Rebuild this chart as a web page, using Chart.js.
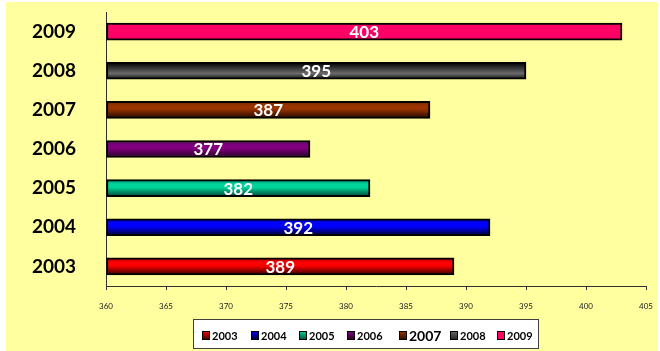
<!DOCTYPE html>
<html>
<head>
<meta charset="utf-8">
<script src="https://cdn.jsdelivr.net/npm/chart.js@4"></script>
<style>
  html, body { margin: 0; padding: 0; background: #ffffff; }
  #grafica { display: block; }
</style>
</head>
<body>
<canvas id="grafica" width="660" height="351"></canvas>
<script>
const anios = ["2003", "2004", "2005", "2006", "2007", "2008", "2009"];
const valores = [389, 392, 382, 377, 387, 395, 403];
const ticksX = [360, 365, 370, 375, 380, 385, 390, 395, 400, 405];

// degradado vertical de cada barra: arriba / medio / abajo
const coloresArriba = ["#c00000", "#0000c0", "#00a078", "#600060", "#802a00", "#0a0a0a", "#ff0066"];
const coloresMedio = ["#ff0000", "#0000ff", "#00d49a", "#80007f", "#993300", "#6a6a6a", "#ff0066"];
const coloresAbajo = ["#500000", "#000048", "#005a44", "#340032", "#341000", "#2a2a2a", "#ff0066"];

const FUENTE = "Lato, 'Open Sans', sans-serif";

function degradado(ctx) {
    const chart = ctx.chart;
    const i = ctx.dataIndex;
    const escala = chart.scales.y;
    if (!escala || !chart.chartArea) return coloresMedio[i];
    const yc = escala.getPixelForValue(i);
    const g = chart.ctx.createLinearGradient(0, yc - 7, 0, yc + 7);
    g.addColorStop(0, coloresArriba[i]);
    if (i === 5) {
        g.addColorStop(0.7, coloresMedio[i]);
    } else {
        g.addColorStop(0.2, coloresMedio[i]);
        g.addColorStop(0.45, coloresMedio[i]);
    }
    g.addColorStop(1, coloresAbajo[i]);
    return g;
}

// fondo amarillo del gráfico
const fondo = {
    id: "fondo",
    beforeDraw(chart) {
        const c = chart.ctx;
        c.save();
        c.fillStyle = "#ffffa0";
        c.fillRect(6, 2, 652, 349);
        c.restore();
    }
};

// valor de cada barra escrito en blanco en el centro
const etiquetasValor = {
    id: "etiquetasValor",
    afterDatasetsDraw(chart) {
        const c = chart.ctx;
        const meta = chart.getDatasetMeta(0);
        c.save();
        c.font = "bold 17px " + FUENTE;
        c.fillStyle = "#ffffff";
        c.textAlign = "center";
        c.textBaseline = "middle";
        meta.data.forEach((barra, i) => {
            const p = barra.getProps(["x", "y", "base"], true);
            c.fillText(String(valores[i]), (p.x + p.base) / 2, p.y + 1);
        });
        c.restore();
    }
};

// leyenda dentro de un recuadro blanco
const leyenda = {
    id: "leyenda",
    afterDraw(chart) {
        const c = chart.ctx;
        c.save();
        c.fillStyle = "#ffffff";
        c.fillRect(193.5, 319.5, 345, 29);
        c.strokeStyle = "#404040";
        c.lineWidth = 1;
        c.strokeRect(193.5, 319.5, 345, 29);
        const posiciones = [202, 251, 299, 347, 399, 450, 497];
        c.textBaseline = "middle";
        anios.forEach((anio, i) => {
            const x = posiciones[i];
            const y = 335;
            const g = c.createLinearGradient(0, y - 4, 0, y + 4);
            g.addColorStop(0, coloresMedio[i]);
            g.addColorStop(1, coloresAbajo[i]);
            c.fillStyle = g;
            c.fillRect(x, y - 4, 7, 8);
            c.strokeStyle = "#000000";
            c.strokeRect(x + 0.5, y - 3.5, 7, 8);
            c.fillStyle = "#000000";
            c.font = (anio === "2007" ? "bold 14px " : "bold 11px ") + FUENTE;
            c.fillText(anio, x + 10, y + 1);
        });
        c.restore();
    }
};

new Chart(document.querySelector("#grafica"), {
    type: "bar",
    data: {
        labels: anios,
        datasets: [{
            data: valores,
            base: 360,
            backgroundColor: degradado,
            borderColor: "#000000",
            borderWidth: 2,
            borderSkipped: false,
            barThickness: 17
        }]
    },
    plugins: [fondo, etiquetasValor, leyenda],
    options: {
        indexAxis: "y",
        responsive: false,
        animation: false,
        layout: { padding: { left: 0, right: 14, top: 12, bottom: 35 } },
        plugins: {
            legend: { display: false },
            tooltip: { enabled: false }
        },
        scales: {
            x: {
                min: 360,
                max: 405,
                afterBuildTicks(scale) {
                    scale.ticks = ticksX.map(v => ({ value: v }));
                },
                afterFit(scale) {
                    scale.height = 30;
                    scale.paddingLeft = 0;
                    scale.paddingRight = 0;
                },
                grid: {
                    display: true,
                    drawOnChartArea: false,
                    drawTicks: true,
                    tickLength: 4,
                    color: "#303030"
                },
                border: { color: "#303030", width: 1 },
                ticks: {
                    color: "#202020",
                    font: { family: FUENTE, size: 8 },
                    padding: 12,
                    maxRotation: 0
                }
            },
            y: {
                reverse: true,
                afterFit(scale) {
                    scale.width = 106;
                    scale.paddingTop = 0;
                    scale.paddingBottom = 0;
                },
                grid: { display: false },
                border: { color: "#303030", width: 1 },
                ticks: {
                    color: "#000000",
                    font: { family: FUENTE, size: 19, weight: "bold" },
                    padding: 22
                }
            }
        }
    }
});
</script>
</body>
</html>
